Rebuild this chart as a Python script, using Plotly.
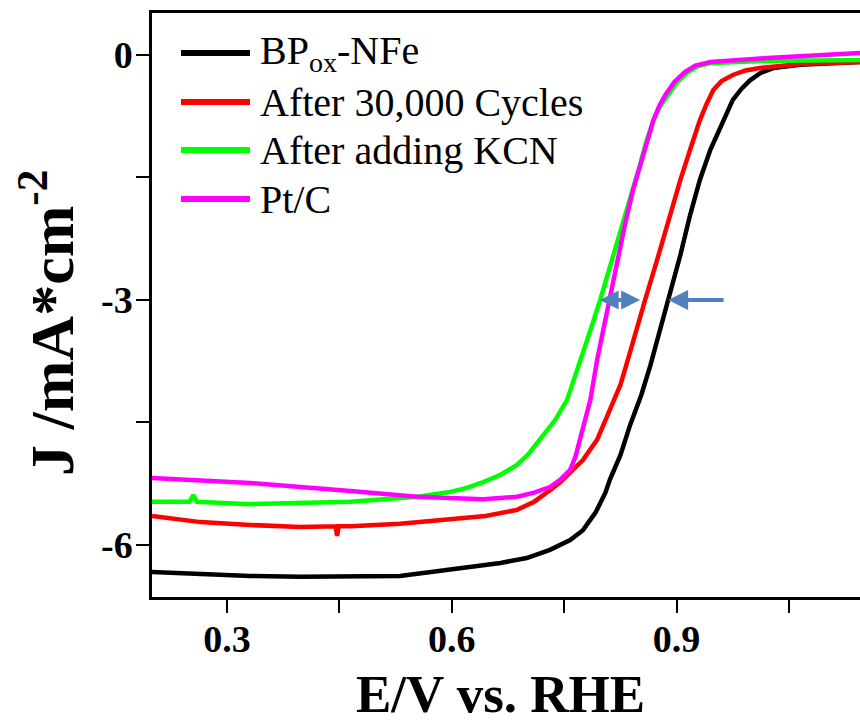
import plotly.graph_objects as go

# ---------------- data ----------------
bp_E = [0.200, 0.265, 0.331, 0.398, 0.465, 0.531, 0.598, 0.665, 0.700, 0.718, 0.731, 0.758, 0.775,
        0.785, 0.792, 0.798, 0.805, 0.811, 0.818, 0.825, 0.838, 0.853, 0.865, 0.878, 0.889, 0.905,
        0.918, 0.931, 0.945, 0.955, 0.962, 0.975, 0.987, 0.998, 1.012, 1.029, 1.065, 1.145]
bp_J = [-6.33, -6.355, -6.38, -6.39, -6.39, -6.38, -6.30, -6.22, -6.16, -6.10, -6.06, -5.94, -5.82,
        -5.69, -5.60, -5.49, -5.36, -5.20, -5.06, -4.90, -4.53, -4.16, -3.80, -3.37, -3.00, -2.45,
        -1.96, -1.53, -1.16, -0.95, -0.80, -0.55, -0.41, -0.31, -0.22, -0.16, -0.12, -0.086]

cyc_E = [0.200, 0.265, 0.331, 0.398, 0.445, 0.447, 0.449, 0.465, 0.531, 0.598, 0.645, 0.687, 0.710,
         0.731, 0.745, 0.758, 0.775, 0.794, 0.811, 0.825, 0.835, 0.847, 0.858, 0.874, 0.889, 0.905,
         0.918, 0.931, 0.940, 0.949, 0.960, 0.975, 0.992, 1.011, 1.065, 1.145]
cyc_J = [-5.645, -5.72, -5.755, -5.78, -5.77, -5.89, -5.77, -5.77, -5.74, -5.69, -5.645, -5.57, -5.47,
         -5.33, -5.23, -5.11, -4.96, -4.71, -4.35, -4.04, -3.73, -3.37, -3.00, -2.51, -2.02, -1.53,
         -1.16, -0.80, -0.60, -0.43, -0.32, -0.245, -0.19, -0.16, -0.11, -0.086]

kcn_E = [0.200, 0.250, 0.255, 0.260, 0.331, 0.465, 0.554, 0.598, 0.620, 0.642, 0.665, 0.687, 0.703,
         0.718, 0.738, 0.754, 0.763, 0.771, 0.785, 0.798, 0.814, 0.828, 0.838, 0.851, 0.860, 0.869,
         0.878, 0.887, 0.900, 0.914, 0.928, 0.945, 1.011, 1.145]
kcn_J = [-5.47, -5.47, -5.39, -5.47, -5.50, -5.47, -5.41, -5.35, -5.30, -5.23, -5.14, -5.02, -4.88,
         -4.71, -4.47, -4.22, -3.98, -3.73, -3.37, -3.00, -2.51, -2.08, -1.78, -1.35, -1.05, -0.80,
         -0.63, -0.51, -0.34, -0.22, -0.14, -0.10, -0.073, -0.06]

ptc_E = [0.200, 0.331, 0.465, 0.554, 0.642, 0.687, 0.710, 0.731, 0.745, 0.758, 0.765, 0.771, 0.778,
         0.785, 0.794, 0.802, 0.811, 0.822, 0.831, 0.842, 0.855, 0.862, 0.869, 0.877, 0.885, 0.897,
         0.911, 0.925, 0.945, 1.021, 1.145]
ptc_J = [-5.18, -5.24, -5.34, -5.41, -5.44, -5.41, -5.36, -5.29, -5.20, -5.08, -4.92, -4.71, -4.47,
         -4.22, -3.73, -3.37, -3.00, -2.51, -2.08, -1.65, -1.22, -1.00, -0.80, -0.62, -0.49, -0.33,
         -0.21, -0.13, -0.086, -0.037, 0.024]

series_names = ["BP<sub>ox</sub>-NFe", "After 30,000 Cycles", "After adding KCN", "Pt/C"]
series_colors = ["#000000", "#FF0000", "#00FF00", "#FF00FF"]

x_tickvals = [0.3, 0.6, 0.9]
x_ticktext = ["0.3", "0.6", "0.9"]
x_minor_vals = [0.45, 0.75, 1.05]
y_tickvals = [0, -3, -6]
y_ticktext = ["0", "-3", "-6"]
y_minor_vals = [-1.5, -4.5]

# half-wave potential markers (arrows)
dbl_arrow = (0.7953, 0.8513, -3.0)
single_arrow = (0.9647, 0.8887, -3.0)

# ---------------- figure ----------------
fig = go.Figure()
all_series = [(bp_E, bp_J), (cyc_E, cyc_J), (kcn_E, kcn_J), (ptc_E, ptc_J)]
for (xs, ys), name, col in zip(all_series, series_names, series_colors):
    fig.add_trace(go.Scatter(x=xs, y=ys, mode="lines", name=name,
                             line=dict(color=col, width=4.5), showlegend=False))

W, H = 860, 727
SX0, SX1, SY0, SY1 = 152, 860, 13, 597
L, T, R, B = SX0, SY0, W - SX1, H - SY1

def px2paper(sx, sy):
    return (sx - SX0) / (SX1 - SX0), (SY1 - sy) / (SY1 - SY0)

tickfont = dict(family="Liberation Serif", size=38, color="black")
fig.update_layout(
    width=W, height=H,
    margin=dict(l=L, r=R, t=T, b=B),
    paper_bgcolor="white", plot_bgcolor="white",
    font=dict(family="Liberation Serif", color="black"),
    xaxis=dict(range=[0.2, 1.1447], showline=True, linewidth=2.5, linecolor="black", mirror=True,
               showgrid=False, zeroline=False, ticks="outside", ticklen=13, tickwidth=2,
               tickcolor="black", tickvals=x_tickvals,
               ticktext=["<b>%s</b>" % t for t in x_ticktext],
               minor=dict(tickmode="array", tickvals=x_minor_vals, ticks="outside",
                          ticklen=13, tickwidth=2, tickcolor="black", showgrid=False),
               tickfont=tickfont, ticklabelstandoff=-6),
    yaxis=dict(range=[-6.637, 0.514], showline=True, linewidth=2.5, linecolor="black", mirror=False,
               showgrid=False, zeroline=False, ticks="outside", ticklen=13, tickwidth=2,
               tickcolor="black", tickvals=y_tickvals,
               ticktext=["<b>%s</b>" % t for t in y_ticktext],
               minor=dict(tickmode="array", tickvals=y_minor_vals, ticks="outside",
                          ticklen=13, tickwidth=2, tickcolor="black", showgrid=False),
               tickfont=tickfont, ticklabelstandoff=-4),
)

# axis titles
ax_x, ay_x = px2paper(500, 694)
fig.add_annotation(text="<b>E/V vs. RHE</b>", xref="paper", yref="paper", x=ax_x, y=ay_x,
                   showarrow=False, xanchor="center", yanchor="middle",
                   font=dict(family="Liberation Serif", size=53, color="black"))
ax_y, ay_y = px2paper(47, 323)
fig.add_annotation(text="<b>J /mA*cm<sup>-2</sup></b>", xref="paper", yref="paper", x=ax_y, y=ay_y,
                   showarrow=False, xanchor="center", yanchor="middle", textangle=-90,
                   font=dict(family="Liberation Serif", size=62, color="black"))

# legend (manual)
leg_rows = [53, 102, 150, 199]
for name, col, py in zip(series_names, series_colors, leg_rows):
    x0, y0 = px2paper(181, py)
    x1, _ = px2paper(250, py)
    fig.add_shape(type="line", xref="paper", yref="paper", x0=x0, x1=x1, y0=y0, y1=y0,
                  line=dict(color=col, width=6))
    tx, ty = px2paper(258, py)
    fig.add_annotation(text=name, xref="paper", yref="paper", x=tx, y=ty, showarrow=False,
                       xanchor="left", yanchor="middle",
                       font=dict(family="Liberation Serif", size=40, color="black"))

# arrows
fig.add_annotation(x=dbl_arrow[1], y=dbl_arrow[2], ax=dbl_arrow[0], ay=dbl_arrow[2],
                   xref="x", yref="y", axref="x", ayref="y", text="", showarrow=True,
                   arrowhead=2, arrowside="end+start", arrowsize=0.95, arrowwidth=4,
                   arrowcolor="#4F81BD")
fig.add_annotation(x=single_arrow[1], y=single_arrow[2], ax=single_arrow[0], ay=single_arrow[2],
                   xref="x", yref="y", axref="x", ayref="y", text="", showarrow=True,
                   arrowhead=2, arrowsize=1.0, arrowwidth=4, arrowcolor="#4F81BD")

fig.write_html(
    "out.html",
    config={"displayModeBar": False},
    post_script="document.body.style.margin='0';document.body.style.overflow='hidden';",
)
